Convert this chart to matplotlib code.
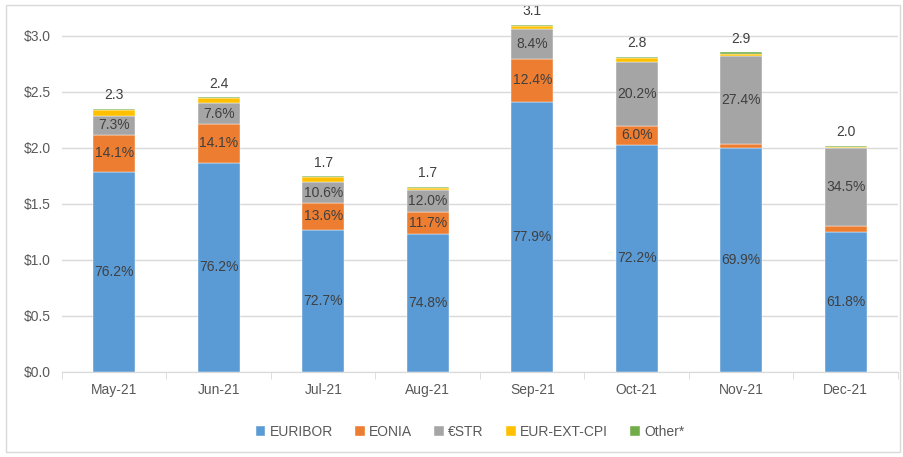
import matplotlib
matplotlib.use("Agg")
import matplotlib.pyplot as plt
from matplotlib.patches import Rectangle
import numpy as np

months = ["May-21", "Jun-21", "Jul-21", "Aug-21", "Sep-21", "Oct-21", "Nov-21", "Dec-21"]
series_names = ["EURIBOR", "EONIA", "€STR", "EUR-EXT-CPI", "Other*"]
euribor = [1.79, 1.87, 1.27, 1.234, 2.415, 2.03, 2.00, 1.25]
eonia = [0.33, 0.345, 0.238, 0.193, 0.384, 0.169, 0.04, 0.05]
estr = [0.17, 0.186, 0.186, 0.198, 0.26, 0.568, 0.78, 0.697]
cpi = [0.05, 0.045, 0.05, 0.02, 0.03, 0.035, 0.02, 0.013]
other = [0.01, 0.005, 0.004, 0.005, 0.01, 0.01, 0.015, 0.012]
totals_lbl = ["2.3", "2.4", "1.7", "1.7", "3.1", "2.8", "2.9", "2.0"]
euribor_lbl = ["76.2%", "76.2%", "72.7%", "74.8%", "77.9%", "72.2%", "69.9%", "61.8%"]
eonia_lbl = ["14.1%", "14.1%", "13.6%", "11.7%", "12.4%", "6.0%", "", ""]
estr_lbl = ["7.3%", "7.6%", "10.6%", "12.0%", "8.4%", "20.2%", "27.4%", "34.5%"]
yticks = [0.0, 0.5, 1.0, 1.5, 2.0, 2.5, 3.0]

colors = ["#5B9BD5", "#ED7D31", "#A5A5A5", "#FFC000", "#70AD47"]
series = [euribor, eonia, estr, cpi, other]
labels = [euribor_lbl, eonia_lbl, estr_lbl, None, None]

plt.rcParams['font.family'] = ['Liberation Sans', 'DejaVu Sans']

fig = plt.figure(figsize=(9.04, 4.57), dpi=100)
ax = fig.add_axes([62/904, 1-372/457, 836/904, 358/457])

x = np.arange(len(months))
bottom = np.zeros(len(months))
handles = []
for vals, col, name, lbl in zip(series, colors, series_names, labels):
    v = np.array(vals)
    b = ax.bar(x, v, 0.4, bottom=bottom, color=col, label=name, zorder=3,
               edgecolor='white', linewidth=0.3)
    handles.append(b)
    if lbl is not None:
        for i in range(len(months)):
            if lbl[i]:
                ax.text(x[i], bottom[i] + v[i] / 2, lbl[i], ha='center', va='center',
                        fontsize=10, color='#404040', zorder=4)
    bottom = bottom + v

for i in range(len(months)):
    ax.text(x[i], bottom[i] + 0.06, totals_lbl[i], ha='center', va='bottom',
            fontsize=10, color='#404040')

ax.set_xlim(-0.5, len(months) - 0.5)
ax.set_ylim(0, 358/112)
ax.set_yticks(yticks)
ax.set_yticklabels([f"${t:.1f}" for t in yticks], fontsize=10, color='#595959')
ax.yaxis.grid(True, color='#D9D9D9', linewidth=1, zorder=0)
ax.tick_params(axis='y', length=0, pad=8)
ax.set_xticks(x)
ax.set_xticklabels(months, fontsize=10, color='#595959')
ax.set_xticks(np.arange(-0.5, len(months)), minor=True)
ax.tick_params(axis='x', which='major', length=0, pad=8)
ax.tick_params(axis='x', which='minor', length=5, color='#D9D9D9', direction='out')
for s in ['top', 'right', 'left']:
    ax.spines[s].set_visible(False)
ax.spines['bottom'].set_color('#D9D9D9')

leg = fig.legend(handles=handles, loc='center', bbox_to_anchor=(470/904, 1-432/457),
                 ncol=5, frameon=False, fontsize=10, handlelength=0.7, handleheight=0.7,
                 columnspacing=1.6, handletextpad=0.3, labelcolor='#595959')

fig.patches.append(Rectangle((6/904, 1-452/457), 894/904, 447/457, transform=fig.transFigure,
                             fill=False, edgecolor='#D9D9D9', linewidth=1))

fig.savefig("out.png", dpi=100)
